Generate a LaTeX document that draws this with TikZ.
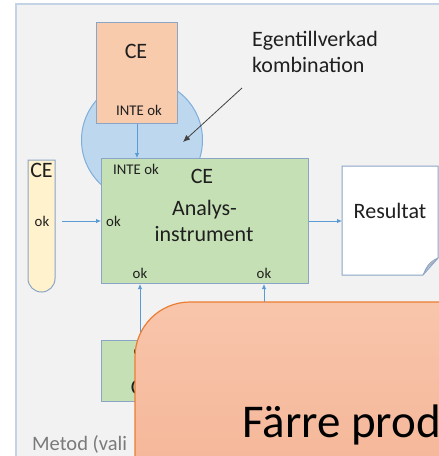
\documentclass[tikz,border=0pt]{standalone}
\usepackage{fontspec}
\setmainfont{Carlito}
\usetikzlibrary{arrows.meta}
\definecolor{panelbg}{HTML}{F2F2F2}
\definecolor{panelline}{HTML}{C5D3E6}
\definecolor{boxline}{HTML}{8AA5C6}
\definecolor{arrowblue}{HTML}{5B9BD5}
\definecolor{ceorange}{HTML}{F8CBAD}
\definecolor{cegreen}{HTML}{C5E0B4}
\definecolor{ceyellow}{HTML}{FFF2CC}
\definecolor{mixblue}{HTML}{BDD7EE}
\definecolor{mixline}{HTML}{7FAEDB}
\definecolor{notetop}{HTML}{F8C5AB}
\definecolor{notebot}{HTML}{F4B192}
\definecolor{noteline}{HTML}{ED7D31}
\definecolor{textdark}{HTML}{1F1F1F}
\definecolor{textgray}{HTML}{7A7A7A}
\tikzset{
  cebox/.style={draw=boxline, line width=1pt, anchor=north west, inner sep=0pt},
  arr/.style={draw=arrowblue, line width=0.8pt, -{Latex[length=5pt,width=4.5pt]}},
  bigtxt/.style={font=\fontsize{22}{24}\selectfont, text=textdark, inner sep=0pt, anchor=base},
  smalltxt/.style={font=\fontsize{14.8}{16}\selectfont, text=textdark, inner sep=0pt, anchor=base},
}
\begin{document}
\begin{tikzpicture}[x=1pt,y=-1pt]
\useasboundingbox (0,0) rectangle (439,456);
\clip (0,0) rectangle (439,456);
\fill[white] (0,0) rectangle (439,456);

% method panel
\draw[fill=panelbg, draw=panelline, line width=1.5pt] (16,4) rectangle (470,490);
\node[font=\fontsize{20.5}{24}\selectfont, text=textgray, inner sep=0pt, anchor=base west] (metod) at (32,450) {Metod (vali};

% self-made combination: circle behind the CE boxes
\node[circle, draw=mixline, fill=mixblue, line width=1pt, minimum size=121pt, inner sep=0pt] (mix) at (142,140) {};

% external CE (not ok for the instrument)
\node[cebox, fill=ceorange, minimum width=81pt, minimum height=101pt] (ceext) at (96,22) {};
\node[bigtxt] (ceextlbl) at (136,58) {CE};
\node[smalltxt] (ceextok) at (139,115) {INTE ok};

% analysis instrument
\node[cebox, fill=cegreen, minimum width=207pt, minimum height=125pt] (an) at (101,158) {};
\node[smalltxt] (aninte) at (136,174) {INTE ok};
\node[bigtxt] (ance) at (202,183) {CE};
\node[bigtxt] (an1) at (204.5,215) {Analys-};
\node[bigtxt] (an2) at (204,241) {instrument};
\node[smalltxt, anchor=base west] (anokl) at (106,226) {ok};
\node[smalltxt] (anokb1) at (140,278) {ok};
\node[smalltxt] (anokb2) at (264,278) {ok};

% test tube
\path[draw=boxline, fill=ceyellow, line width=1pt]
  (28,160) -- (28,278.5) .. controls (28,286) and (34,292) .. (41.5,292)
  .. controls (49,292) and (55,286) .. (55,278.5) -- (55,160) -- cycle;
\coordinate (tubeout) at (62,221);
\node[bigtxt] (tubece) at (41.5,177) {CE};
\node[smalltxt] (tubeok) at (42,226) {ok};

% result document
\path[draw=boxline, fill=white, line width=1pt]
  (342,166) -- (438,166) -- (438,258) -- (423,275) -- (342,275) -- cycle;
\path[fill=gray!55, draw=boxline, line width=0.6pt]
  (423,275) .. controls (426,268) and (428,262) .. (438,258)
  .. controls (433,264) and (427,266) .. cycle;
\coordinate (resin) at (342,221);
\node[bigtxt] (res) at (390,218) {Resultat};

% lower CE box
\node[cebox, fill=cegreen, minimum width=90pt, minimum height=61pt] (celow) at (101,340) {};
\node[smalltxt] (celowok) at (141,355) {ok};
\node[bigtxt] (celowce) at (142,394) {CE};
\coordinate (hidden) at (264,340);

% connectors
\draw[arr] (ceext.south) -- (ceext.south |- an.north);
\draw[arr] (tubeout) -- (tubeout -| an.west);
\draw[arr] (an.east |- resin) -- (resin);
\draw[arr] (celow.north -| anokb1) -- (anokb1 |- an.south);
\draw[arr] (hidden) -- (hidden |- an.south);

% annotation
\node[font=\fontsize{22}{26}\selectfont, text=textdark, align=left, inner sep=0pt, anchor=base west] (note) at (252,72) {Egentillverkad\\kombination};
\coordinate (notetail) at (242,88);
\coordinate (notehead) at (183,142);
\draw[draw=black!75, line width=0.8pt, -{Latex[length=7pt,width=6pt]}] (notetail) -- (notehead);

% overlay card
\draw[top color=notetop, bottom color=notebot, draw=noteline, line width=1.2pt, rounded corners=55pt]
  (135,302) rectangle (520,540);
\node[font=\fontsize{47}{52}\selectfont, text=black, inner sep=0pt, anchor=base west] (farre) at (242,437) {Färre prod};
\end{tikzpicture}
\end{document}
